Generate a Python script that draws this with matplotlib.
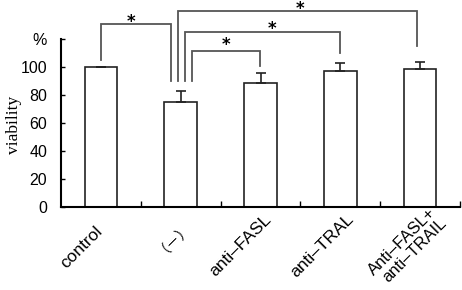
import matplotlib
matplotlib.use('Agg')
import matplotlib.pyplot as plt
from matplotlib.transforms import ScaledTranslation

# ---- data ----
categories = ['control', '（－）', 'anti\u2013FASL', 'anti\u2013TRAL',
              'Anti\u2013FASL+\nanti\u2013TRAIL']
viability = [100, 75, 88, 97, 98]
error_up = [0, 7.5, 7.5, 5.5, 5]
y_ticks = [0, 20, 40, 60, 80, 100, 120]
y_tick_labels = ['0', '20', '40', '60', '80', '100', '%']
y_label = 'viability'
star = '*'

# layout: pixel offsets of each rotated category label centre from its tick
label_offsets_px = [(-19, -41), (-9, -28), (-20, -39), (-18, -39), (-13, -40)]

# significance brackets: (x_left, x_right, y_top, y_left_end, y_right_end, star_x, star_y)
brackets = [
    (0.00, 0.88, 130.3, 104.8, 89.8, 0.38, 134.8),
    (0.967, 3.965, 140.0, 89.8, 115.0, 2.49, 144.3),
    (1.06, 3.00, 124.6, 89.8, 109.6, 2.15, 129.8),
    (1.14, 1.99, 111.2, 89.8, 100.5, 1.57, 118.6),
]

fig = plt.figure(figsize=(4.62, 2.90), dpi=100)
ax = fig.add_axes([61/462, (290-206.7)/290, 399/462, 168/290])

x = list(range(len(categories)))
ax.bar(x, viability, width=0.41, color='white', edgecolor='#222222',
       linewidth=1.2, zorder=2)
ax.errorbar(x, viability, yerr=[[0]*len(error_up), error_up], fmt='none',
            ecolor='#222222', elinewidth=1.2, capsize=3.6, capthick=1.2, zorder=3)

ax.set_xlim(-0.5, len(categories) - 0.5)
ax.set_ylim(0, 120)

for s in ['top', 'right']:
    ax.spines[s].set_visible(False)
for s in ['left', 'bottom']:
    ax.spines[s].set_linewidth(1.5)
    ax.spines[s].set_color('black')

ax.set_yticks(y_ticks)
ax.set_yticklabels(y_tick_labels, fontfamily='Liberation Sans', fontsize=11.5)
ax.tick_params(axis='y', direction='in', length=3, width=1, pad=10)

ax.set_xticks(x)
ax.set_xticks([i + 0.5 for i in x], minor=True)
ax.tick_params(axis='x', which='major', length=0, pad=0)
ax.tick_params(axis='x', which='minor', direction='in', length=4, width=1)
ax.set_xticklabels(categories, fontsize=12.5,
                   fontfamily=['Liberation Sans', 'Noto Sans CJK JP'])
for lab, (dx, dy) in zip(ax.get_xticklabels(), label_offsets_px):
    lab.set_rotation(45)
    lab.set_ha('center')
    lab.set_va('center')
    lab.set_rotation_mode('anchor')
    lab.set_multialignment('right')
    lab.set_linespacing(1.05)
    lab.set_transform(lab.get_transform() +
                      ScaledTranslation(dx/100, dy/100, fig.dpi_scale_trans))
ax.get_xticklabels()[1].set_fontsize(10.5)
ax.get_xticklabels()[4].set_fontsize(12)

ax.set_ylabel(y_label, fontfamily='Liberation Serif', fontsize=12.5)
ax.yaxis.set_label_coords(-0.098, 0.489)

for xl, xr, yt, yle, yre, sx, sy in brackets:
    ax.plot([xl, xl, xr, xr], [yle, yt, yt, yre], color='#555555',
            linewidth=1.3, clip_on=False, solid_joinstyle='miter')
    ax.annotate(star, xy=(sx, sy), xytext=(0, -9), textcoords='offset pixels',
                ha='center', va='baseline', fontsize=12, fontweight='bold',
                fontfamily='DejaVu Sans', annotation_clip=False)

fig.savefig('out.png', dpi=100)
